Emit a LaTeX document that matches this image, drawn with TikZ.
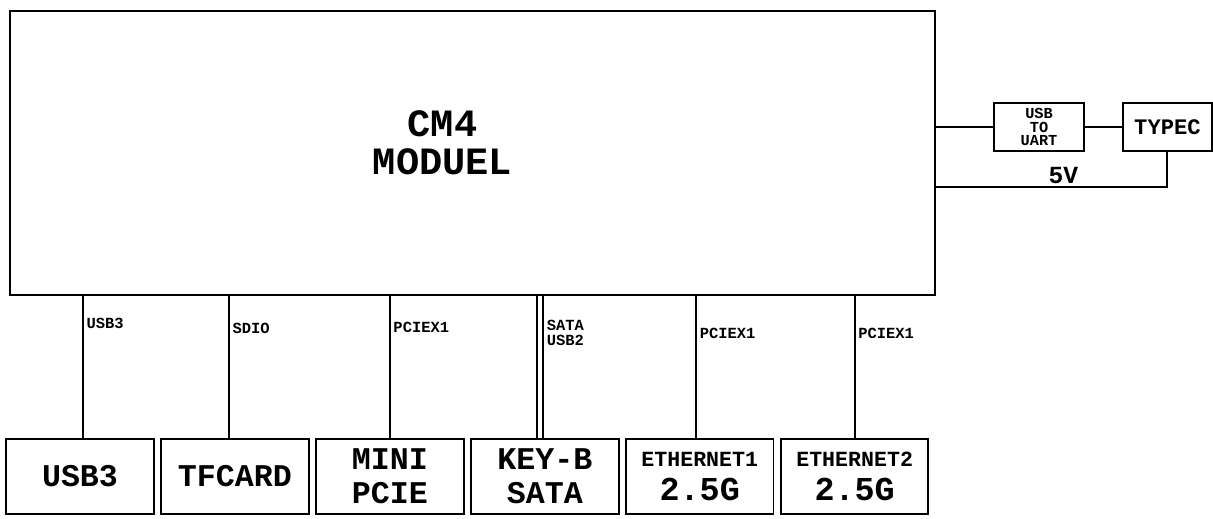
\documentclass[tikz,border=0pt]{standalone}
\usepackage{fontspec}
\setmonofont{Liberation Mono}
\usetikzlibrary{positioning,calc}

\begin{document}
\begin{tikzpicture}[font=\ttfamily\bfseries,line width=1.1pt,
  blk/.style={draw,minimum width=2.95cm,minimum height=1.5cm,inner sep=0pt,align=center,
    font=\ttfamily\bfseries\fontsize{18}{19.5}\selectfont},
  eth/.style={blk,font=\ttfamily\bfseries\fontsize{12.3}{14}\selectfont},
  sig/.style={font=\ttfamily\bfseries\fontsize{8.8}{8.6}\selectfont,inner sep=1.5pt,align=left}]
  \useasboundingbox (0,0) rectangle (24.26,10.36);
  % module principal
  \node[draw,minimum width=18.5cm,minimum height=5.68cm] (cm4) at (9.45,7.30) {};
  \node[font=\ttfamily\bfseries\fontsize{22}{21.6}\selectfont,align=center] (cm4txt) at ($(cm4)+(-0.6,0.2)$) {CM4\\MODUEL};
  % connecteurs du bas
  \node[blk] (usb) at (1.60,0.83) {USB3};
  \node[blk,right=0.11cm of usb] (tf) {TFCARD};
  \node[blk,right=0.11cm of tf] (pcie) {MINI\\PCIE};
  \node[blk,right=0.11cm of pcie] (keyb) {KEY-B\\SATA};
  \node[eth,right=0.11cm of keyb] (eth1) {ETHERNET1\\[5pt]{\fontsize{19}{19}\selectfont 2.5G}};
  \node[eth,right=0.11cm of eth1] (eth2) {ETHERNET2\\[5pt]{\fontsize{19}{19}\selectfont 2.5G}};
  \coordinate (cu) at ([xshift=0.06cm]usb.north);
  \coordinate (ct) at ([xshift=-0.12cm]tf.north);
  \coordinate (cp) at (pcie.north);
  \coordinate (ck1) at ([xshift=-0.15cm]keyb.north);
  \coordinate (ck2) at ([xshift=-0.03cm]keyb.north);
  \coordinate (ce1) at ([xshift=-0.07cm]eth1.north);
  \coordinate (ce2) at (eth2.north);
  \draw (cu |- cm4.south) -- (cu) node[pos=0.19,right,sig] {USB3};
  \draw (ct |- cm4.south) -- (ct) node[pos=0.23,right,sig] {SDIO};
  \draw (cp |- cm4.south) -- (cp) node[pos=0.22,right,sig] {PCIEX1};
  \draw (ck1 |- cm4.south) -- (ck1);
  \draw (ck2 |- cm4.south) -- (ck2) node[pos=0.26,right,sig] {SATA\\USB2};
  \draw (ce1 |- cm4.south) -- (ce1) node[pos=0.26,right,sig] {PCIEX1};
  \draw (ce2 |- cm4.south) -- (ce2) node[pos=0.26,right,sig] {PCIEX1};
  % partie droite
  \node[draw,minimum width=1.8cm,minimum height=0.96cm,inner sep=0pt,align=center,
    font=\ttfamily\bfseries\fontsize{8.7}{7.7}\selectfont] (uart) at (20.78,7.82) {USB\\TO\\UART};
  \node[draw,minimum width=1.78cm,minimum height=0.96cm,inner sep=0pt,right=0.74cm of uart,
    font=\ttfamily\bfseries\fontsize{12.6}{14}\selectfont] (typec) {TYPEC};
  \draw (cm4.east |- uart.west) -- (uart.west);
  \draw (uart) -- (typec);
  \coordinate (pw) at ([yshift=-0.7cm]typec.south);
  \draw (typec.south) -- (pw) -- (pw -| cm4.east) node[pos=0.45,above=-2pt,font=\ttfamily\bfseries\fontsize{14}{16}\selectfont] {5V};
\end{tikzpicture}
\end{document}
